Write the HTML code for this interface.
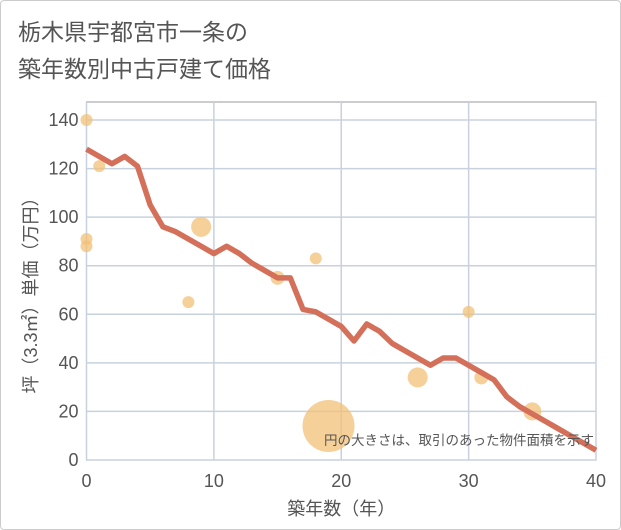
<!DOCTYPE html>
<html><head><meta charset="utf-8"><style>
body{margin:0;background:#fff;font-family:"Liberation Sans","Noto Sans CJK JP",sans-serif}
.frame{position:absolute;left:0;top:0;width:619px;height:528px;border:1px solid #ccc;border-radius:4px}
</style></head><body>
<div class="frame"></div>
<svg id="c" width="621" height="530" style="position:absolute;left:0;top:0">
<text x="18" y="40" font-size="23" fill="#555">栃木県宇都宮市一条の</text>
<text x="18" y="77" font-size="23" fill="#555">築年数別中古戸建て価格</text>
</svg>
<script>
const xTicks=[0,10,20,30,40];
const yTicks=[0,20,40,60,80,100,120,140];
const lineX=[0,2,3,4,5,6,7,8,9,10,11,12,13,14,15,16,17,18,19,20,21,22,23,24,25,26,27,28,29,30,31,32,33,34,35,36,37,38,39,40];
const lineY=[128,122,125,121,105,96,94,91,88,85,88,85,81,78,75,75,62,61,58,55,49,56,53,48,45,42,39,42,42,39,36,33,26,22,19,16,13,10,7,4];
const bubX=[0,1,0,0,8,9,15,18,19,26,30,31,35];
const bubY=[140,121,91,88,65,96,75,83,14,34,61,34,20];
const bubR=[6,6,6,6,6,10,7,6,26,10,6,7,9];
const L=86.5,R=596,T=102,B=460;
const sx=v=>L+(R-L)*v/40, sy=v=>B-(B-120)*v/140;
const s=document.getElementById('c'),NS='http://www.w3.org/2000/svg';
function mk(t,a,p){const e=document.createElementNS(NS,t);for(const k in a)e.setAttribute(k,a[k]);(p||s).appendChild(e);return e;}
let bg=mk('rect',{x:L,y:T,width:R-L,height:B-T,fill:'#fff',stroke:'#999'});


yTicks.forEach(v=>{let g=mk('line',{x1:L,x2:R,y1:sy(v),y2:sy(v),stroke:'#c8d2de','stroke-width':1.5});


let t=mk('text',{x:L-8,y:sy(v)+6,'text-anchor':'end','font-size':18,fill:'#555'});t.textContent=v;

});
xTicks.forEach(v=>{let g=mk('line',{x1:sx(v),x2:sx(v),y1:T,y2:B,stroke:'#c8d2de','stroke-width':1.5});


let t=mk('text',{x:sx(v),y:B+27,'text-anchor':'middle','font-size':18,fill:'#555'});t.textContent=v;

});
bubX.forEach((v,i)=>{let c=mk('circle',{cx:sx(v),cy:sy(bubY[i]),r:bubR[i],fill:'#f2c077','fill-opacity':0.75});

});
let p=mk('polyline',{points:lineX.map((v,i)=>sx(v)+','+sy(lineY[i])).join(' '),fill:'none',stroke:'#d4705a','stroke-width':5.5,'stroke-linejoin':'round'});


let n=mk('text',{x:594,y:445,'text-anchor':'end','font-size':13.5,fill:'#555'});n.textContent='円の大きさは、取引のあった物件面積を示す';


let xt=mk('text',{x:sx(20),y:515,'text-anchor':'middle','font-size':18,fill:'#555'});xt.textContent='築年数（年）';


let yt=mk('text',{x:0,y:0,'text-anchor':'middle','font-size':18,fill:'#555',transform:'translate(37,'+((T+B)/2+10)+') rotate(-90)'});yt.textContent='坪（3.3㎡）単価（万円）';


</script>
</body></html>
